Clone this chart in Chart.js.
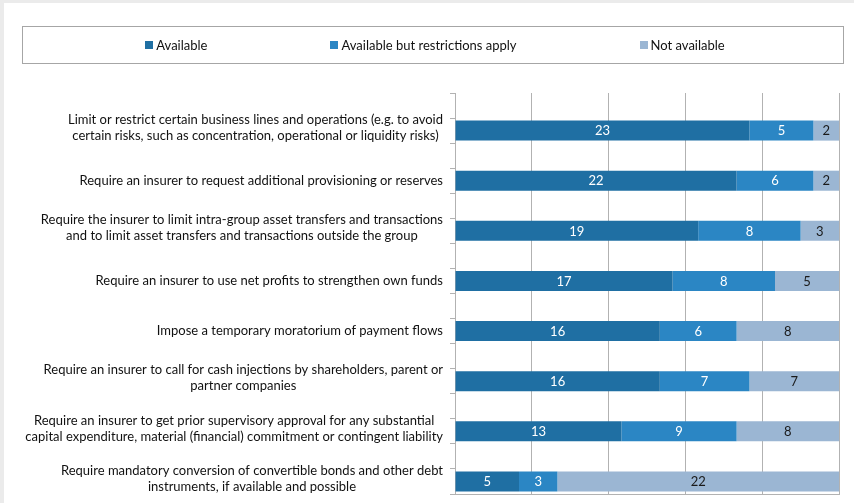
<!DOCTYPE html>
<html>
<head>
<meta charset="utf-8">
<script src="https://cdn.jsdelivr.net/npm/chart.js@4"></script>
<style>
  html, body { margin: 0; padding: 0; background: #ebebeb; width: 854px; height: 503px; overflow: hidden; }
  #wrap { position: absolute; left: 4px; top: 3px; width: 850px; height: 500px; background: #ffffff; }
  canvas { display: block; }
</style>
</head>
<body>
<div id="wrap"><canvas id="c" width="850" height="500"></canvas></div>
<script>
// ---- data ----
const categories = [
  ["Limit or restrict certain business lines and operations (e.g. to avoid", "certain risks, such as concentration, operational or liquidity risks)"],
  ["Require an insurer to request additional provisioning or reserves"],
  ["Require the insurer to limit intra-group asset transfers and transactions", "and to limit asset transfers and transactions outside the group"],
  ["Require an insurer to use net profits to strengthen own funds"],
  ["Impose a temporary moratorium of payment flows"],
  ["Require an insurer to call for cash injections by shareholders, parent or", "partner companies"],
  ["Require an insurer to get prior supervisory approval for any substantial", "capital expenditure, material (financial) commitment or contingent liability"],
  ["Require mandatory conversion of convertible bonds and other debt", "instruments, if available and possible"]
];
const seriesNames = ["Available", "Available but restrictions apply", "Not available"];
const available = [23, 22, 19, 17, 16, 16, 13, 5];
const restricted = [5, 6, 8, 8, 6, 7, 9, 3];
const notAvailable = [2, 2, 3, 5, 8, 7, 8, 22];
const xTicks = [0, 6, 12, 18, 24, 30];

// ---- styles ----
const colors = ["#1f6fa3", "#2b86c4", "#9bb6d3"];
const labelColors = ["#ffffff", "#ffffff", "#1a1a1a"];
const FONT = "Lato, 'Open Sans', sans-serif";
const gridColor = "#b2b2b2";

// each category occupies a pair of slots: an empty one and the bar one
const slotLabels = categories.flatMap(c => ["", c.join(" ")]);
const expand = arr => arr.flatMap(v => [null, v]);

const legendBox = {
  id: "legendBox",
  afterDraw(chart) {
    const ctx = chart.ctx;
    ctx.save();
    ctx.strokeStyle = "#a6a6a6";
    ctx.lineWidth = 1;
    ctx.strokeRect(18.5, 23.5, 821, 37);
    ctx.font = "13px " + FONT;
    ctx.textBaseline = "middle";
    const sq = 8, gap = 3, itemGap = 123;
    const ds = chart.data.datasets;
    const widths = ds.map(d => sq + gap + ctx.measureText(d.label).width);
    const total = widths.reduce((a, b) => a + b, 0) + itemGap * (ds.length - 1);
    let x = 431 - total / 2;
    const cy = 42;
    ds.forEach((d, i) => {
      ctx.fillStyle = d.backgroundColor;
      ctx.fillRect(Math.round(x), cy - sq / 2, sq, sq);
      ctx.fillStyle = "#111111";
      ctx.textAlign = "left";
      ctx.fillText(d.label, x + sq + gap, cy + 0.5);
      x += widths[i] + itemGap;
    });
    ctx.restore();
  }
};

const catLabels = {
  id: "catLabels",
  afterDraw(chart) {
    const ctx = chart.ctx;
    const ys = chart.scales.y;
    ctx.save();
    ctx.font = "13px " + FONT;
    ctx.fillStyle = "#111111";
    ctx.textAlign = "center";
    ctx.textBaseline = "middle";
    const right = ys.right - 12;
    const lh = 16;
    categories.forEach((lines, i) => {
      const y = ys.getPixelForValue(2 * i + 1);
      const w = Math.max(...lines.map(l => ctx.measureText(l).width));
      const cx = right - w / 2;
      const shift = lines.length > 1 ? -3 : 0;
      lines.forEach((l, j) => {
        ctx.fillText(l, cx, y + (j - (lines.length - 1) / 2) * lh + shift);
      });
    });
    ctx.restore();
  }
};

const valueLabels = {
  id: "valueLabels",
  afterDatasetsDraw(chart) {
    const ctx = chart.ctx;
    ctx.save();
    ctx.font = "13px " + FONT;
    ctx.textAlign = "center";
    ctx.textBaseline = "middle";
    chart.data.datasets.forEach((d, di) => {
      const meta = chart.getDatasetMeta(di);
      ctx.fillStyle = labelColors[di];
      meta.data.forEach((el, i) => {
        const v = d.data[i];
        if (v === null || v === undefined) return;
        const cx = (el.x + el.base) / 2;
        ctx.fillText(String(v), cx, el.y + 0.5);
      });
    });
    ctx.restore();
  }
};

new Chart(document.getElementById("c"), {
  type: "bar",
  data: {
    labels: slotLabels,
    datasets: [
      { label: seriesNames[0], data: expand(available), backgroundColor: colors[0] },
      { label: seriesNames[1], data: expand(restricted), backgroundColor: colors[1] },
      { label: seriesNames[2], data: expand(notAvailable), backgroundColor: colors[2] }
    ]
  },
  options: {
    indexAxis: "y",
    responsive: false,
    devicePixelRatio: 1,
    animation: false,
    datasets: { bar: { categoryPercentage: 1, barPercentage: 0.8, borderWidth: 0 } },
    layout: { padding: { top: 90, right: 15, bottom: 9, left: 0 } },
    plugins: { legend: { display: false }, tooltip: { enabled: false } },
    scales: {
      x: {
        stacked: true,
        min: xTicks[0],
        max: xTicks[xTicks.length - 1],
        afterBuildTicks: s => { s.ticks = xTicks.map(v => ({ value: v })); },
        ticks: { display: false },
        grid: { color: gridColor, drawTicks: false, lineWidth: 1 },
        border: { display: true, color: gridColor },
        afterFit: s => { s.height = 0; }
      },
      y: {
        stacked: true,
        ticks: { display: false },
        grid: { drawOnChartArea: false, drawTicks: true, tickLength: 5, color: gridColor, offset: true },
        border: { display: true, color: gridColor },
        afterFit: s => { s.width = 451; }
      }
    }
  },
  plugins: [legendBox, catLabels, valueLabels]
});
</script>
</body>
</html>
